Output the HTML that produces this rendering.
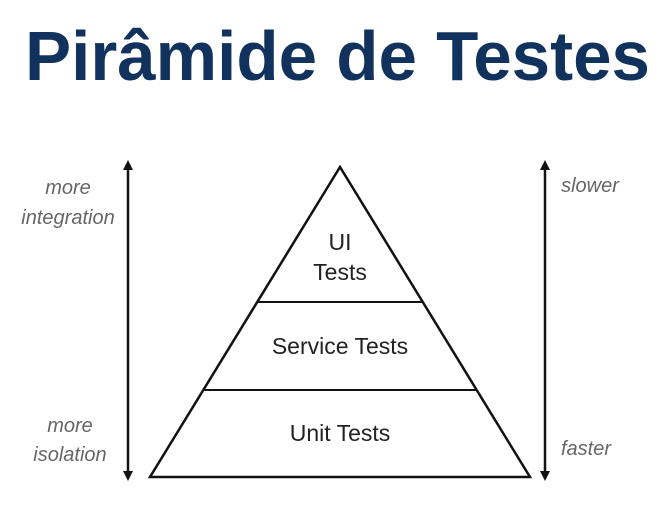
<!DOCTYPE html>
<html><head><style>html,body{margin:0;padding:0;background:#fff;}</style></head>
<body>
<svg width="660" height="514" viewBox="0 0 660 514" xmlns="http://www.w3.org/2000/svg">
<defs>
<marker id="a" viewBox="0 0 10 10" refX="5" refY="5" markerWidth="12" markerHeight="10" orient="auto-start-reverse" markerUnits="userSpaceOnUse"><path d="M0,0 L10,5 L0,10 z" fill="#111"/></marker>
</defs>
<text x="25" y="80" font-family="Liberation Sans, sans-serif" font-weight="bold" font-size="70" fill="#12325e" textLength="625" lengthAdjust="spacingAndGlyphs">Pirâmide de Testes</text>
<line x1="128" y1="165" x2="128" y2="476" stroke="#111" stroke-width="2.5" marker-start="url(#a)" marker-end="url(#a)"/>
<line x1="545" y1="165" x2="545" y2="476" stroke="#111" stroke-width="2.5" marker-start="url(#a)" marker-end="url(#a)"/>
<polygon points="340,167 150,477 530,477" fill="none" stroke="#111" stroke-width="2.5"/>
<line x1="257" y1="302" x2="423" y2="302" stroke="#111" stroke-width="2"/>
<line x1="204" y1="390" x2="476" y2="390" stroke="#111" stroke-width="2"/>
<g font-family="Liberation Sans, sans-serif" font-size="23" fill="#222" text-anchor="middle">
<text x="340" y="250">UI</text>
<text x="340" y="280">Tests</text>
<text x="340" y="354">Service Tests</text>
<text x="340" y="441">Unit Tests</text>
</g>
<g font-family="Liberation Sans, sans-serif" font-size="20" font-style="italic" fill="#666" text-anchor="middle">
<text x="68" y="194">more</text>
<text x="68" y="224">integration</text>
<text x="70" y="432">more</text>
<text x="70" y="461">isolation</text>
<text x="590" y="192">slower</text>
<text x="586" y="455">faster</text>
</g>
</svg>
</body></html>
